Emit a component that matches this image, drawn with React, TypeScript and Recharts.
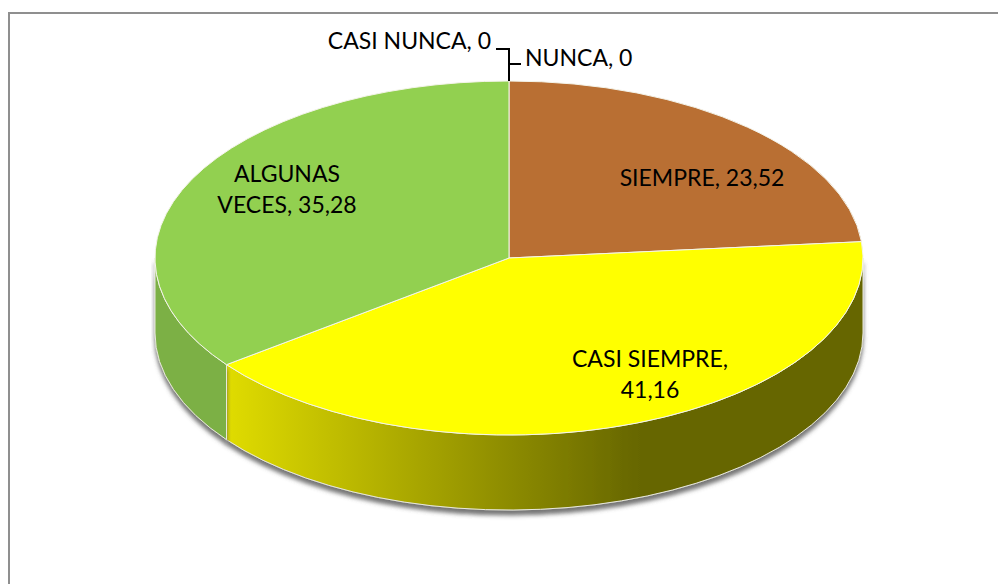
import { PieChart, Pie } from 'recharts';

const categories = ['SIEMPRE', 'CASI SIEMPRE', 'ALGUNAS VECES', 'CASI NUNCA', 'NUNCA'];
const percentages = [23.52, 41.16, 35.28, 0, 0];
const topColors = ['#b96f33', '#ffff00', '#92d050', '#92d050', '#b96f33'];
const wallColors = ['#b96f33', 'url(#yellowWall)', '#7cb044', '#7cb044', '#b96f33'];

const tableTop = categories.map((name, i) => ({ name, value: percentages[i], fill: topColors[i] }));
const tableWall = categories.map((name, i) => ({ name, value: percentages[i], fill: wallColors[i] }));

const WIDTH = 998;
const HEIGHT = 584;
const SQUASH = 0.5;
const DEPTH = 75;
const FONT = 'Lato, sans-serif';
const FONT_SIZE = 23;
const LINE_GAP = 31;

// where each label sits: x, first baseline y, anchor, words kept on the first line
const labelPlaces: Record<string, { x: number; y: number; anchor: string; firstLine: number }> = {
  SIEMPRE: { x: 702, y: 186, anchor: 'middle', firstLine: 3 },
  'CASI SIEMPRE': { x: 650, y: 367, anchor: 'middle', firstLine: 2 },
  'ALGUNAS VECES': { x: 287, y: 182, anchor: 'middle', firstLine: 1 },
  'CASI NUNCA': { x: 491, y: 49, anchor: 'end', firstLine: 3 },
  NUNCA: { x: 525, y: 66, anchor: 'start', firstLine: 2 },
};

function pt(cx: number, cy: number, r: number, deg: number) {
  const a = (deg * Math.PI) / 180;
  return { x: cx + r * Math.cos(a), y: cy - r * SQUASH * Math.sin(a) };
}

function TopSlice(props: any) {
  const { cx, cy, outerRadius: r, startAngle, endAngle, fill } = props;
  if (Math.abs(startAngle - endAngle) < 0.01) return <g />;
  const a = pt(cx, cy, r, startAngle);
  const b = pt(cx, cy, r, endAngle);
  const large = Math.abs(startAngle - endAngle) > 180 ? 1 : 0;
  const d = `M${cx},${cy} L${a.x},${a.y} A${r},${r * SQUASH} 0 ${large} 1 ${b.x},${b.y} Z`;
  return <path d={d} fill={fill} stroke="#f4f4ea" strokeWidth={1} />;
}

function WallSlice(props: any) {
  const { cx, cy, outerRadius: r, startAngle, endAngle, fill } = props;
  const hi = Math.min(startAngle, 0);
  const lo = Math.max(endAngle, -180);
  if (hi - lo < 0.01) return <g />;
  const a = pt(cx, cy, r, hi);
  const b = pt(cx, cy, r, lo);
  const ry = r * SQUASH;
  const d = `M${a.x},${a.y} A${r},${ry} 0 0 1 ${b.x},${b.y} L${b.x},${b.y + DEPTH} A${r},${ry} 0 0 0 ${a.x},${a.y + DEPTH} Z`;
  return <path d={d} fill={fill} stroke="#e8e8dc" strokeWidth={1} filter="url(#wallShadow)" />;
}

function SliceLabel(props: any) {
  const { name, value, cx, cy, outerRadius: r } = props;
  const place = labelPlaces[name];
  const words = `${name}, ${String(value).replace('.', ',')}`.split(' ');
  const first = words.slice(0, place.firstLine).join(' ');
  const rest = words.slice(place.firstLine).join(' ');
  const rimY = cy - r * SQUASH;
  return (
    <g>
      {name === 'CASI NUNCA' && (
        <path d={`M${cx - 13},${rimY - 32} H${cx} V${rimY}`} fill="none" stroke="#000" strokeWidth={2} />
      )}
      {name === 'NUNCA' && <path d={`M${cx},${rimY - 17} H${cx + 12}`} fill="none" stroke="#000" strokeWidth={2} />}
      <text x={place.x} y={place.y} textAnchor={place.anchor} fontFamily={FONT} fontSize={FONT_SIZE} fill="#000">
        {first}
      </text>
      {rest && (
        <text x={place.x} y={place.y + LINE_GAP} textAnchor={place.anchor} fontFamily={FONT} fontSize={FONT_SIZE} fill="#000">
          {rest}
        </text>
      )}
    </g>
  );
}

export default function App() {
  return (
    <div style={{ position: 'absolute', left: 0, top: 0, width: WIDTH, height: HEIGHT, overflow: 'hidden', background: '#fff' }}>
      <div style={{ position: 'absolute', left: 8, top: 12, width: 1100, height: 700, border: '2px solid #8f8f8f', borderRightWidth: 0, boxSizing: 'border-box' }} />
      <div style={{ position: 'absolute', left: 0, top: 0 }}>
        <PieChart width={WIDTH} height={HEIGHT} margin={{ top: 0, right: 0, bottom: 0, left: 0 }}>
          <defs>
            <linearGradient id="yellowWall" x1="0" y1="0" x2="1" y2="0">
              <stop offset="0" stopColor="#e0dc00" />
              <stop offset="0.65" stopColor="#666600" />
              <stop offset="1" stopColor="#666600" />
            </linearGradient>
            <filter id="wallShadow" x="-5%" y="-5%" width="110%" height="115%">
              <feDropShadow dx="0" dy="5" stdDeviation="2" floodColor="#555" floodOpacity="0.8" />
            </filter>
          </defs>
          <Pie
            data={tableWall}
            dataKey="value"
            nameKey="name"
            cx={509}
            cy={258}
            outerRadius={354}
            startAngle={90}
            endAngle={-270}
            shape={WallSlice}
            isAnimationActive={false}
          />
          <Pie
            data={tableTop}
            dataKey="value"
            nameKey="name"
            cx={509}
            cy={258}
            outerRadius={354}
            startAngle={90}
            endAngle={-270}
            shape={TopSlice}
            label={SliceLabel}
            labelLine={false}
            isAnimationActive={false}
          />
        </PieChart>
      </div>
    </div>
  );
}
